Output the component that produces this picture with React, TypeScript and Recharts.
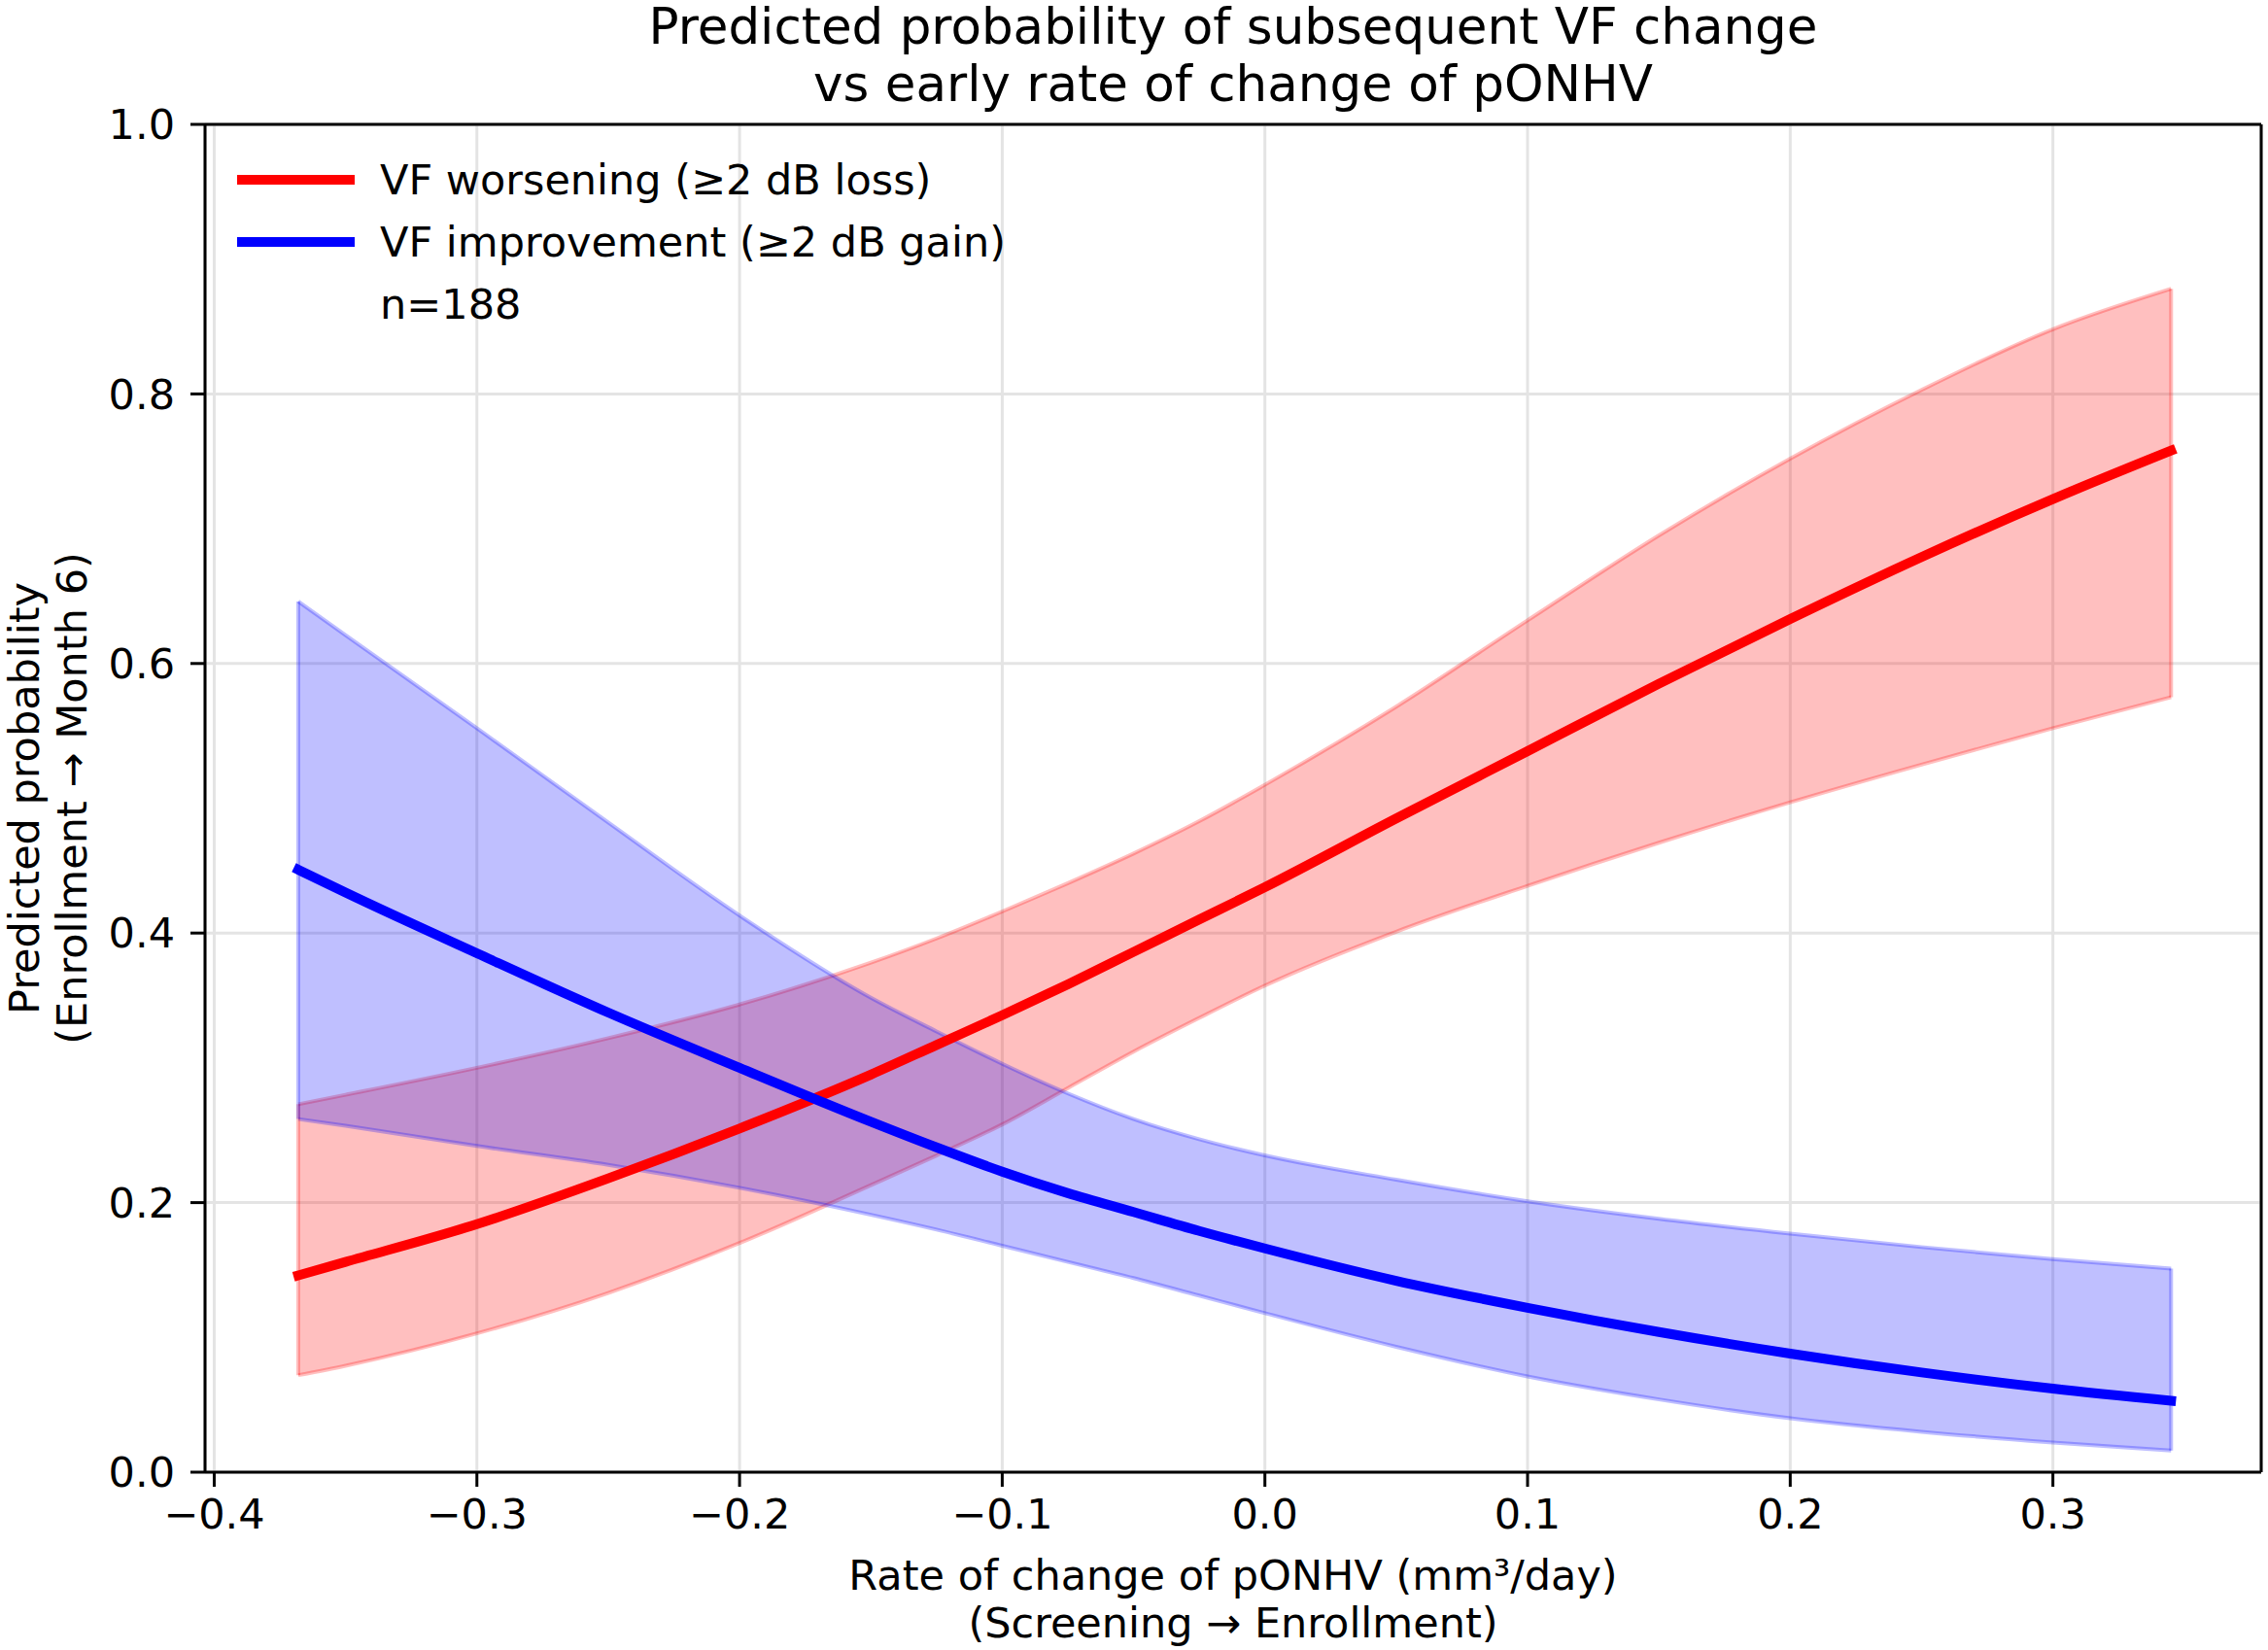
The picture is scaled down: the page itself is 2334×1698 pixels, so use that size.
import {
  Area,
  CartesianGrid,
  ComposedChart,
  Line,
  ReferenceLine,
  XAxis,
  YAxis,
} from "recharts";

// rate of change of pONHV (mm³/day), screening → enrollment
const X = [-0.368, -0.35, -0.3, -0.25, -0.2, -0.15, -0.125, -0.1, -0.075, -0.05, -0.025, 0, 0.05, 0.1, 0.15, 0.2, 0.25, 0.3, 0.345];

// VF worsening (≥2 dB loss)
const WORSEN_P = [0.146, 0.156, 0.184, 0.218, 0.255, 0.295, 0.317, 0.339, 0.362, 0.386, 0.41, 0.434, 0.485, 0.535, 0.585, 0.633, 0.679, 0.722, 0.758];
const WORSEN_LO = [0.072, 0.079, 0.103, 0.133, 0.17, 0.213, 0.235, 0.258, 0.285, 0.312, 0.337, 0.361, 0.401, 0.435, 0.467, 0.497, 0.525, 0.552, 0.575];
const WORSEN_HI = [0.273, 0.28, 0.3, 0.322, 0.347, 0.378, 0.396, 0.416, 0.437, 0.459, 0.483, 0.51, 0.568, 0.632, 0.695, 0.752, 0.803, 0.848, 0.878];

// VF improvement (≥2 dB gain)
const IMPROVE_P = [0.447, 0.43, 0.385, 0.341, 0.3, 0.26, 0.241, 0.223, 0.207, 0.193, 0.179, 0.166, 0.142, 0.122, 0.104, 0.088, 0.074, 0.062, 0.053];
const IMPROVE_LO = [0.262, 0.257, 0.242, 0.228, 0.211, 0.191, 0.18, 0.168, 0.156, 0.144, 0.131, 0.118, 0.093, 0.071, 0.054, 0.04, 0.03, 0.022, 0.016];
const IMPROVE_HI = [0.646, 0.621, 0.552, 0.482, 0.413, 0.352, 0.327, 0.303, 0.281, 0.262, 0.247, 0.235, 0.217, 0.201, 0.188, 0.177, 0.167, 0.158, 0.151];

const X_TICKS = [-0.4, -0.3, -0.2, -0.1, 0, 0.1, 0.2, 0.3];
const Y_TICKS = [0, 0.2, 0.4, 0.6, 0.8, 1];
const X_DOMAIN: [number, number] = [-0.4035, 0.3793];

const LEGEND = [
  { label: "VF worsening (≥2 dB loss)", color: "#ff0000" },
  { label: "VF improvement (≥2 dB gain)", color: "#0000ff" },
];
const N_LABEL = "n=188";

const W = 2334;
const H = 1698;
const PLOT = { left: 211, right: 2327, top: 128, bottom: 1515 };
const FONT = '"DejaVu Sans", sans-serif';
const FS = 43;

const rows = X.map((x, i) => ({
  x,
  worsen: WORSEN_P[i],
  worsenBand: [WORSEN_LO[i], WORSEN_HI[i]],
  improve: IMPROVE_P[i],
  improveBand: [IMPROVE_LO[i], IMPROVE_HI[i]],
}));

const fmt = (v: number) => v.toFixed(1).replace("-", "\u2212");

const cx = (PLOT.left + PLOT.right) / 2;
const cy = (PLOT.top + PLOT.bottom) / 2;

function XTitle() {
  return (
    <g fontFamily={FONT} fontSize={FS} fill="#000" textAnchor="middle">
      <text x={cx} y={1636}>Rate of change of pONHV (mm³/day)</text>
      <text x={cx} y={1685}>(Screening → Enrollment)</text>
    </g>
  );
}

function YTitle() {
  return (
    <g fontFamily={FONT} fontSize={FS} fill="#000" textAnchor="middle">
      <text x={40} y={cy} transform={`rotate(-90 40 ${cy})`}>Predicted probability</text>
      <text x={89} y={cy} transform={`rotate(-90 89 ${cy})`}>(Enrollment → Month 6)</text>
    </g>
  );
}

const last = X.length - 1;

export default function App() {
  return (
    <div style={{ position: "absolute", left: 0, top: 0, width: W, height: H, background: "#fff" }}>
      <div
        style={{
          position: "absolute",
          left: 0,
          top: -2,
          width: 2 * cx,
          textAlign: "center",
          fontFamily: FONT,
          fontSize: 51.5,
          lineHeight: "59px",
          color: "#000",
        }}
      >
        Predicted probability of subsequent VF change
        <br />
        vs early rate of change of pONHV
      </div>

      <ComposedChart
        width={W}
        height={H}
        data={rows}
        margin={{ top: PLOT.top, right: W - PLOT.right, bottom: 0, left: 0 }}
      >
        <CartesianGrid stroke="#e4e4e4" strokeWidth={3} />
        <XAxis
          type="number"
          dataKey="x"
          domain={X_DOMAIN}
          allowDataOverflow
          ticks={X_TICKS}
          tickFormatter={fmt}
          height={H - PLOT.bottom}
          tick={{ fill: "#000", fontSize: FS, fontFamily: FONT }}
          tickSize={15}
          tickMargin={12}
          tickLine={{ stroke: "#000", strokeWidth: 3 }}
          axisLine={{ stroke: "#000", strokeWidth: 3 }}
          label={<XTitle />}
        />
        <YAxis
          domain={[0, 1]}
          ticks={Y_TICKS}
          tickFormatter={fmt}
          width={PLOT.left}
          tick={{ fill: "#000", fontSize: FS, fontFamily: FONT }}
          tickSize={15}
          tickMargin={16}
          tickLine={{ stroke: "#000", strokeWidth: 3 }}
          axisLine={{ stroke: "#000", strokeWidth: 3 }}
          label={<YTitle />}
        />

        <Area
          type="monotone"
          dataKey="worsenBand"
          fill="#ff0000"
          fillOpacity={0.25}
          stroke="#ff0000"
          strokeOpacity={0.25}
          strokeWidth={4}
          isAnimationActive={false}
          activeDot={false}
        />
        <Area
          type="monotone"
          dataKey="improveBand"
          fill="#0000ff"
          fillOpacity={0.25}
          stroke="#0000ff"
          strokeOpacity={0.25}
          strokeWidth={4}
          isAnimationActive={false}
          activeDot={false}
        />
        {[
          { lo: WORSEN_LO, hi: WORSEN_HI, c: "#ff0000" },
          { lo: IMPROVE_LO, hi: IMPROVE_HI, c: "#0000ff" },
        ].flatMap((b, k) =>
          [0, last].map((i) => (
            <ReferenceLine
              key={`${k}-${i}`}
              segment={[
                { x: X[i], y: b.lo[i] },
                { x: X[i], y: b.hi[i] },
              ]}
              stroke={b.c}
              strokeOpacity={0.25}
              strokeWidth={4}
            />
          ))
        )}

        <Line
          type="monotone"
          dataKey="worsen"
          stroke="#ff0000"
          strokeWidth={10}
          strokeLinecap="square"
          dot={false}
          activeDot={false}
          isAnimationActive={false}
        />
        <Line
          type="monotone"
          dataKey="improve"
          stroke="#0000ff"
          strokeWidth={10}
          strokeLinecap="square"
          dot={false}
          activeDot={false}
          isAnimationActive={false}
        />

        <ReferenceLine y={1} stroke="#000" strokeWidth={3} />
        <ReferenceLine x={X_DOMAIN[1]} stroke="#000" strokeWidth={3} />
      </ComposedChart>

      <div style={{ position: "absolute", left: 244, top: 0, fontFamily: FONT, fontSize: FS, color: "#000" }}>
        {LEGEND.map((s, i) => (
          <div
            key={s.label}
            style={{ position: "absolute", top: 153 + i * 64, height: 64, display: "flex", alignItems: "center", whiteSpace: "nowrap" }}
          >
            <span style={{ display: "inline-block", width: 121, height: 10, background: s.color, marginRight: 26 }} />
            <span style={{ lineHeight: "64px" }}>{s.label}</span>
          </div>
        ))}
        <div style={{ position: "absolute", top: 153 + 2 * 64, left: 147, height: 64, lineHeight: "64px", whiteSpace: "nowrap" }}>
          {N_LABEL}
        </div>
      </div>
    </div>
  );
}
